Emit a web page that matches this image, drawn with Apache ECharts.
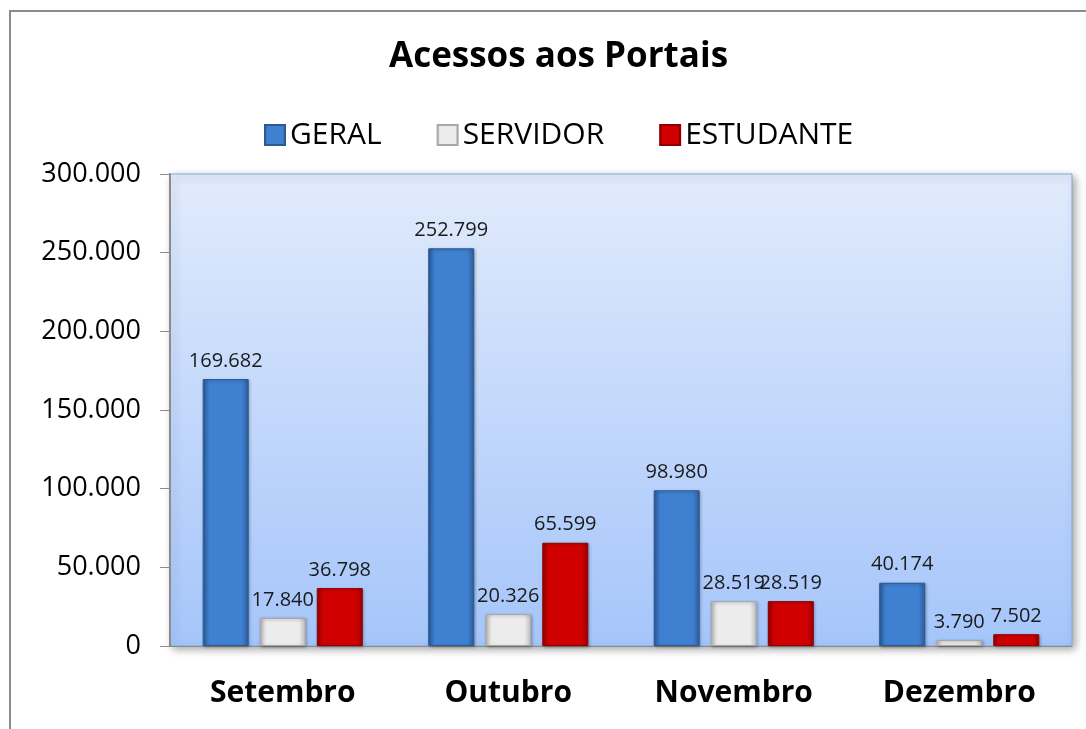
<!DOCTYPE html>
<html>
<head>
<meta charset="utf-8">
<script src="https://cdn.jsdelivr.net/npm/echarts@6/dist/echarts.min.js"></script>
<style>
html,body{margin:0;padding:0;background:#fff;}
#frame{position:absolute;left:9px;top:10px;width:1100px;height:740px;border-left:2px solid #8c8c8c;border-top:2px solid #8c8c8c;}
#chart{position:absolute;left:0;top:0;width:1086px;height:729px;}
</style>
</head>
<body>
<div id="frame"></div>
<div id="chart"></div>
<script>
var meses = ['Setembro', 'Outubro', 'Novembro', 'Dezembro'];
var geral = [169682, 252799, 98980, 40174];
var servidor = [17840, 20326, 28519, 3790];
var estudante = [36798, 65599, 28519, 7502];

function ptNum(v) {
    return String(v).replace(/\B(?=(\d{3})+(?!\d))/g, '.');
}

function barGrad(edge, mid) {
    return new echarts.graphic.LinearGradient(0, 0, 1, 0, [
        {offset: 0, color: edge},
        {offset: 0.15, color: mid},
        {offset: 0.85, color: mid},
        {offset: 1, color: edge}
    ]);
}

(function setbar(){
    var chart = echarts.init(document.getElementById('chart'));
    var fonte = '"Open Sans", Lato, sans-serif';
    var lbl = {
        show: true,
        position: 'top',
        distance: 8,
        fontFamily: fonte,
        fontSize: 20,
        color: '#1a1a1a',
        formatter: function (p) { return ptNum(p.value); }
    };
    var option = {
        animation: false,
        title: {
            text: 'Acessos aos Portais',
            left: 384,
            top: 35,
            textStyle: {fontFamily: fonte, fontSize: 35, fontWeight: 'bold', color: '#000'}
        },
        legend: {
            top: 115,
            left: 259,
            icon: 'rect',
            itemWidth: 20,
            itemHeight: 20,
            itemGap: 55,
            textStyle: {fontFamily: fonte, fontSize: 30, color: '#000'},
            data: ['GERAL', 'SERVIDOR', 'ESTUDANTE']
        },
        grid: {
            left: 170, top: 174, right: 14, bottom: 83,
            show: true,
            borderWidth: 1,
            borderColor: '#7ea6e0',
            shadowColor: 'rgba(0,0,0,0.35)',
            shadowBlur: 8,
            shadowOffsetX: 3,
            shadowOffsetY: 3,
            backgroundColor: new echarts.graphic.LinearGradient(0, 0, 0, 1, [
                {offset: 0, color: '#e1ebfc'},
                {offset: 1, color: '#a5c5fa'}
            ])
        },
        xAxis: {
            type: 'category',
            data: meses,
            axisLine: {lineStyle: {color: '#8c8c8c'}},
            axisTick: {show: false},
            axisLabel: {margin: 32, fontFamily: fonte, fontSize: 30, fontWeight: 'bold', color: '#000'}
        },
        yAxis: {
            type: 'value',
            min: 0,
            max: 300000,
            interval: 50000,
            splitLine: {show: false},
            axisLine: {show: true, lineStyle: {color: '#8c8c8c', width: 2}},
            axisTick: {show: true, inside: false, length: 10, lineStyle: {color: '#8c8c8c'}},
            axisLabel: {
                margin: 29,
                fontFamily: fonte,
                fontSize: 27,
                color: '#000',
                formatter: function (v) { return ptNum(v); }
            }
        },
        series: [
            {
                name: 'GERAL',
                type: 'bar',
                barWidth: 46,
                barGap: '24%',
                itemStyle: {
                    color: barGrad('#2c5d9c', '#4080d0'),
                    borderColor: '#2a5a96',
                    borderWidth: 1,
                    shadowColor: 'rgba(0,0,0,0.3)',
                    shadowBlur: 3,
                    shadowOffsetX: 1,
                    shadowOffsetY: 1
                },
                label: lbl,
                data: geral
            },
            {
                name: 'SERVIDOR',
                type: 'bar',
                barWidth: 46,
                barGap: '24%',
                itemStyle: {
                    color: barGrad('#bdbdbd', '#ececec'),
                    borderColor: '#a8a8a8',
                    borderWidth: 1,
                    shadowColor: 'rgba(0,0,0,0.3)',
                    shadowBlur: 3,
                    shadowOffsetX: 1,
                    shadowOffsetY: 1
                },
                label: lbl,
                data: servidor
            },
            {
                name: 'ESTUDANTE',
                type: 'bar',
                barWidth: 46,
                barGap: '24%',
                itemStyle: {
                    color: barGrad('#9a0000', '#d00000'),
                    borderColor: '#900000',
                    borderWidth: 1,
                    shadowColor: 'rgba(0,0,0,0.3)',
                    shadowBlur: 3,
                    shadowOffsetX: 1,
                    shadowOffsetY: 1
                },
                label: lbl,
                data: estudante
            }
        ]
    };
    chart.setOption(option);
})();
</script>
</body>
</html>
